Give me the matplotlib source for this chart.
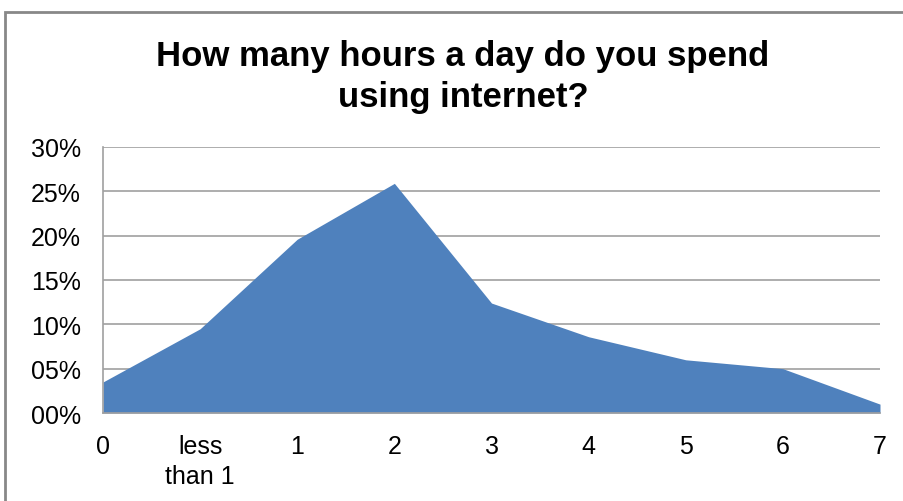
import matplotlib.pyplot as plt
from matplotlib.patches import Rectangle

plt.rcParams['font.family'] = ['Liberation Sans', 'DejaVu Sans']

categories = ["0", "less\nthan 1", "1", "2", "3", "4", "5", "6", "7"]
shares = [3.5, 9.5, 19.6, 25.9, 12.4, 8.6, 6.0, 5.0, 1.0]
y_ticks = [0, 5, 10, 15, 20, 25, 30]
y_labels = ["00%", "05%", "10%", "15%", "20%", "25%", "30%"]

fig = plt.figure(figsize=(9.04, 5.02), dpi=100)
fig.patches.append(Rectangle((5 / 904, -0.1), 1.1, 1 - 13 / 502 + 0.1,
                             transform=fig.transFigure, fill=False,
                             edgecolor="#888888", linewidth=2))

ax = fig.add_axes([103 / 904, 1 - 414 / 502, 777 / 904, 266 / 502])
x = range(len(categories))
ax.fill_between(x, shares, 0, color="#4F81BD", linewidth=0)

ax.set_xlim(0, len(categories) - 1)
ax.set_ylim(0, 30)
ax.set_yticks(y_ticks)
ax.set_yticklabels(y_labels, fontsize=18)
ax.set_xticks(list(x))
ax.set_xticklabels(categories, fontsize=18, linespacing=1.3, va="top")
ax.tick_params(length=0, pad=16)
ax.tick_params(axis="x", pad=15)
ax.grid(axis="y", color="#a0a0a0", linewidth=1.2)
ax.set_axisbelow(True)
for side in ["top", "right"]:
    ax.spines[side].set_visible(False)
for side in ["left", "bottom"]:
    ax.spines[side].set_color("#a0a0a0")
    ax.spines[side].set_linewidth(1.2)

fig.text(463 / 904, 1 - 77 / 502, "How many hours a day do you spend\nusing internet?",
         ha="center", va="center", fontsize=25, fontweight="bold", linespacing=1.28)

fig.savefig("out.png", dpi=100)
plt.close(fig)
